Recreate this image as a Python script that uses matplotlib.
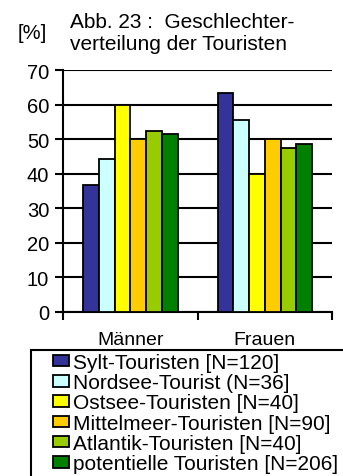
import numpy as np
import matplotlib
matplotlib.use("Agg")
import matplotlib.pyplot as plt
from matplotlib.patches import Rectangle

plt.rcParams["font.family"] = ["Liberation Sans", "DejaVu Sans"]

# Data
categories = ["Männer", "Frauen"]
series = [
    "Sylt-Touristen [N=120]",
    "Nordsee-Tourist (N=36]",
    "Ostsee-Touristen [N=40]",
    "Mittelmeer-Touristen [N=90]",
    "Atlantik-Touristen [N=40]",
    "potentielle Touristen [N=206]",
]
sylt = [36.7, 63.3]
nordsee = [44.4, 55.6]
ostsee = [60.0, 40.0]
mittelmeer = [50.0, 50.0]
atlantik = [52.5, 47.5]
potentiell = [51.5, 48.5]
values = [sylt, nordsee, ostsee, mittelmeer, atlantik, potentiell]
colors = ["#333399", "#CCFFFF", "#FFFF00", "#FFCC00", "#99CC00", "#008000"]

fig = plt.figure(figsize=(3.43, 4.77), dpi=100)
ax = fig.add_axes([0.184, 0.344, 0.784, 0.507])

x = np.arange(len(categories))
w = 0.117
for i, (vals, col, lab) in enumerate(zip(values, colors, series)):
    ax.bar(x + (i - 2.5) * w, vals, w, color=col, edgecolor="black",
           linewidth=1.3, label=lab, zorder=3)

ax.set_xlim(-0.5, 1.5)
ax.set_ylim(0, 70)
ax.set_yticks(range(0, 71, 10))
ax.yaxis.grid(True, color="black", linewidth=1.5, zorder=0)
ax.set_axisbelow(True)
ax.set_xticks(x)
ax.set_xticklabels(categories)
ax.set_xticks([-0.5, 0.5, 1.5], minor=True)
ax.tick_params(axis="x", which="major", length=0, pad=13.5, labelsize=14)
ax.tick_params(axis="x", which="minor", length=6, width=1.5, direction="out")
ax.tick_params(axis="y", length=6, width=1.5, labelsize=14.5, pad=4)
for s in ["top", "right"]:
    ax.spines[s].set_visible(False)
for s in ["left", "bottom"]:
    ax.spines[s].set_linewidth(1.5)

fig.text(0.205, 0.972, "Abb. 23 :  Geschlechter-\nverteilung der Touristen",
         fontsize=15, va="top", ha="left", linespacing=1.15)
fig.text(0.05, 0.95, "[%]", fontsize=14.5, va="top", ha="left")

# legend frame runs off the right and bottom edge like in the original
fig.patches.append(Rectangle((31 / 343, -0.1), 1.0, 0.1 + 1 - 351 / 477,
                             transform=fig.transFigure, fill=False,
                             edgecolor="black", linewidth=1.5))
leg = fig.legend(loc="upper left", bbox_to_anchor=(53 / 343, 1 - 354 / 477),
                 fontsize=15, frameon=False,
                 handlelength=0.77, handleheight=0.48, handletextpad=0.2,
                 labelspacing=0.06, borderpad=0, borderaxespad=0)

fig.savefig("out.png", dpi=100)
